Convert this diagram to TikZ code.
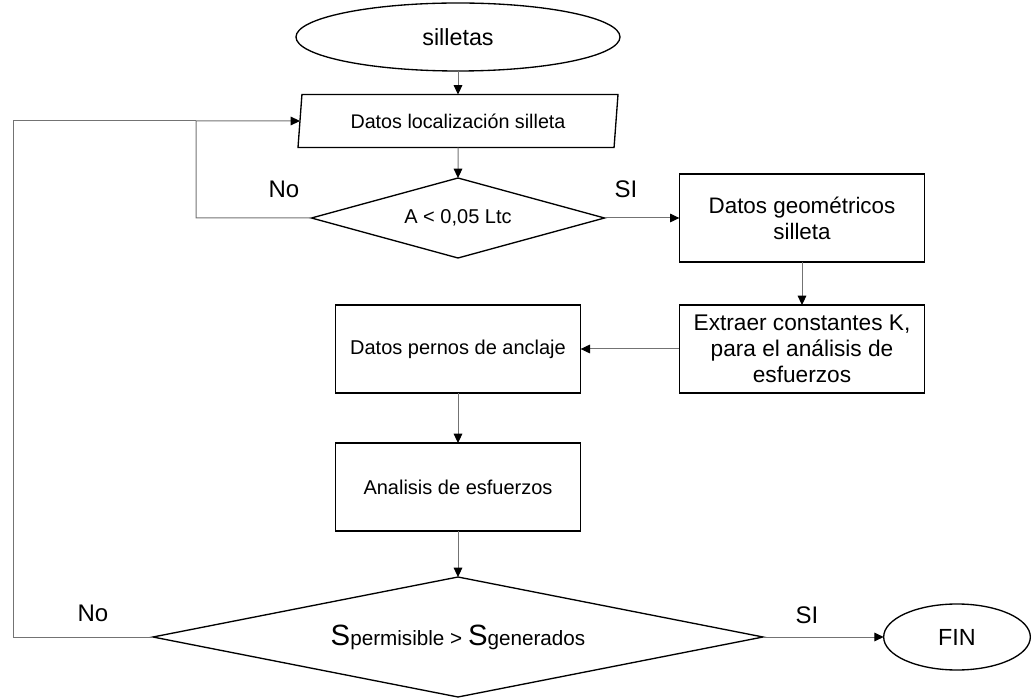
\documentclass[tikz,border=0pt]{standalone}
\usepackage{fontspec}
\setmainfont{Liberation Sans}
\usetikzlibrary{arrows.meta, shapes.geometric}

\begin{document}
\begin{tikzpicture}[x=0.75pt, y=-0.75pt]

	\tikzset{
		term/.style={
				ellipse, draw=black, line width=1pt, inner sep=0pt, outer sep=0pt
			},
		datos/.style={
				trapezium, trapezium left angle=75, trapezium right angle=105, trapezium stretches body,
				draw=black, line width=1pt, inner sep=0pt, outer sep=0pt, minimum width=240pt, minimum height=39.75pt,
				font=\fontsize{14.8}{17}\selectfont
			},
		proc/.style={
				rectangle, draw=black, line width=1pt, inner sep=2pt, outer sep=0pt, minimum width=184pt, minimum height=66pt,
				align=center, font=\fontsize{15}{18}\selectfont
			},
		decision/.style={
				diamond, draw=black, line width=1pt, inner sep=0pt, outer sep=0pt
			},
		flow/.style={
				draw=black!55, line width=0.75pt, -{Triangle[length=7pt, width=6.5pt, color=black]}
			},
		loop/.style={
				draw=black!55, line width=0.75pt
			},
		lbl/.style={font=\fontsize{18}{20}\selectfont},
	}
	\useasboundingbox (0,0) rectangle (1032,698);

	% main column
	\node[term, minimum width=243pt, minimum height=51pt, font=\fontsize{17.5}{19}\selectfont](inicio) at (458,37){silletas};
	\node[datos](loc) at (458,121){Datos localización silleta};
	\node[decision, aspect=3.6, minimum width=219.75pt, minimum height=60pt, font=\fontsize{15}{17}\selectfont](d1) at (458,218){A < 0,05 Ltc};
	\node[proc](pernos) at (458,349){Datos pernos de anclaje};
	\node[proc](esf) at (458,487){Analisis de esfuerzos};
	\node[decision, aspect=5, minimum width=457.5pt, minimum height=90pt, font=\fontsize{15.5}{17}\selectfont](d2) at (458,637)
		{{\fontsize{22}{24}\selectfont S}permisible > {\fontsize{22}{24}\selectfont S}generados};

	% right column
	\node[proc, font=\fontsize{16.8}{19.5}\selectfont](geo) at (802,218){Datos geométricos\\silleta};
	\node[proc, font=\fontsize{17}{19.5}\selectfont](kcte) at (802,349){Extraer constantes K,\\para el análisis de\\esfuerzos};
	\node[term, minimum width=110pt, minimum height=49.5pt, font=\fontsize{17.5}{19}\selectfont](fin) at (957,637){FIN};

	% branch labels
	\node[lbl](no1) at (284,189){No};
	\node[lbl](si1) at (626,189){SI};
	\node[lbl](no2) at (93,613){No};
	\node[lbl](si2) at (807,615){SI};

	\coordinate (r1) at (196,121);
	\coordinate (r2) at (13,121);

	\draw[flow] (inicio)--(loc);
	\draw[flow] (loc)--(d1);
	\draw[flow] (d1)--(geo);
	\draw[flow] (geo)--(kcte);
	\draw[flow] (kcte)--(pernos);
	\draw[flow] (pernos)--(esf);
	\draw[flow] (esf)--(d2);
	\draw[flow] (d2)--(fin);

	% return paths
	\draw[flow] (d1.west) -| (r1) -- (loc);
	\draw[loop] (d2.west) -| (r2) -- (r1);

\end{tikzpicture}
\end{document}
